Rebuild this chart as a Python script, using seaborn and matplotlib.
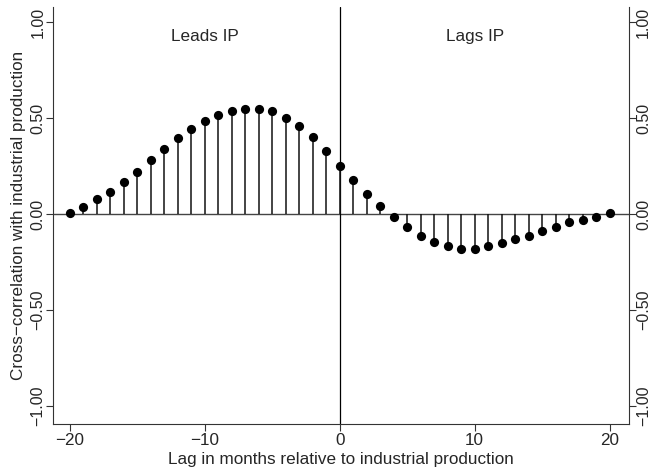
import numpy as np
import pandas as pd
import matplotlib
matplotlib.use("Agg")
import matplotlib.pyplot as plt
import seaborn as sns
from matplotlib.ticker import FuncFormatter

lags = list(range(-20, 21))
xcorr = [0.005, 0.038, 0.077, 0.117, 0.166, 0.221, 0.279, 0.338, 0.394, 0.444,
         0.486, 0.517, 0.536, 0.547, 0.547, 0.535, 0.502, 0.460, 0.399, 0.326,
         0.251,
         0.178, 0.105, 0.040, -0.017, -0.070, -0.115, -0.148, -0.169, -0.183, -0.183,
         -0.169, -0.152, -0.131, -0.112, -0.087, -0.066, -0.044, -0.030, -0.014, 0.005]
xticks = [-20, -10, 0, 10, 20]
yticks = [-1.0, -0.5, 0.0, 0.5, 1.0]
region_labels = ["Leads IP", "Lags IP"]
region_x = [-10, 10]

df = pd.DataFrame({"lag": lags, "xcorr": xcorr})

sns.set_style("ticks")
plt.rcParams["font.family"] = ["Liberation Sans", "DejaVu Sans"]

FS = 12.3
YFS = 11.5

fig = plt.figure(figsize=(6.53, 4.73), dpi=100)
ax = fig.add_axes([0.0812, 0.1036, 0.9625 - 0.0812, 0.985 - 0.1036])

ax.axhline(0, color="#444444", lw=1.0, zorder=1)
ax.axvline(0, color="black", lw=0.9, zorder=1)
ax.vlines(df["lag"], 0, df["xcorr"], color="#111111", lw=1.1, zorder=2)
sns.scatterplot(data=df, x="lag", y="xcorr", ax=ax, color="black", s=44,
                edgecolor="black", linewidth=0, zorder=3, legend=False)

for lab, xx in zip(region_labels, region_x):
    ax.text(xx, 0.927, lab, ha="center", va="center", fontsize=FS)

ax.set_xlim(-21.25, 21.4)
ax.set_ylim(-1.094, 1.078)
ax.set_xticks(xticks)
ax.set_yticks(yticks)
fmt = FuncFormatter(lambda v, p: f"{v:.2f}".replace("-", "\u2212"))
ax.yaxis.set_major_formatter(fmt)
ax.tick_params(axis="y", which="both", left=True, right=True, labelleft=True,
               labelright=True, labelrotation=90, labelsize=YFS, length=5,
               width=0.8, color="#333333", pad=0.5)
for lbl in ax.get_yticklabels():
    lbl.set_va("center")
ax.tick_params(axis="x", labelsize=FS, length=5, width=0.8, color="#333333", pad=1.5)
ax.set_xlabel("Lag in months relative to industrial production", fontsize=FS, labelpad=3)
ax.set_ylabel("Cross\u2212correlation with industrial production", fontsize=FS, labelpad=3)

ax.spines["top"].set_visible(False)
for s in ["left", "right", "bottom"]:
    ax.spines[s].set_linewidth(0.8)
    ax.spines[s].set_color("#333333")

fig.savefig("out.png", dpi=100)
